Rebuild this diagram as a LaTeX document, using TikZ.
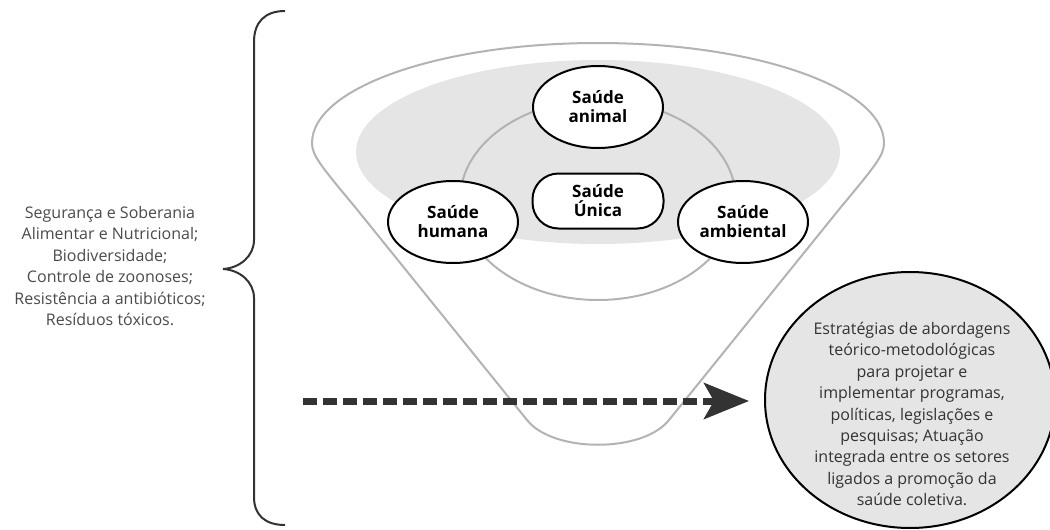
\documentclass[tikz,border=0pt]{standalone}
\usepackage{fontspec}
\setmainfont{Open Sans}
\usetikzlibrary{shapes.geometric,arrows.meta}
\definecolor{ink}{HTML}{333333}
\definecolor{txt}{HTML}{4A4A4A}
\definecolor{ring}{HTML}{B3B3B3}
\definecolor{fillg}{HTML}{E5E5E5}
\tikzset{
  health/.style={ellipse,draw=black,line width=2pt,fill=white,minimum width=130pt,minimum height=82pt,inner sep=0pt,align=center,font=\fontsize{17}{19}\selectfont\bfseries},
  onebox/.style={rectangle,rounded corners=26pt,draw=black,line width=2pt,fill=white,minimum width=131pt,minimum height=55pt,inner sep=0pt,align=center,font=\fontsize{17}{19}\selectfont\bfseries},
  sidetext/.style={align=center,text=txt,font=\fontsize{16}{21.4}\selectfont},
  goalbox/.style={ellipse,draw=black,line width=2pt,fill=fillg,minimum width=290pt,minimum height=256pt,inner sep=0pt},
  grayline/.style={draw=ring,line width=2pt},
}
\begin{document}
\begin{tikzpicture}[x=1pt,y=-1pt]
\useasboundingbox (0,0) rectangle (1050,530);
\clip (0,0) rectangle (1050,530);
% funnel
\draw[grayline] (527,420) -- (355,207) .. controls (320,165) and (312,155) .. (312,143)
  arc[start angle=180,end angle=0,x radius=286,y radius=-100]
  .. controls (884,155) and (876,165) .. (841,207) -- (669,420)
  .. controls (643,453) and (553,453) .. (527,420);
% gray disc
\fill[fillg] (598,152) ellipse[x radius=242,y radius=92];
% inner ring
\draw[grayline] (598,200) ellipse[x radius=138,y radius=100];
% nodes
\node[health] (animal) at (598,107) {Saúde\\animal};
\node[onebox] (unica) at (598,201) {Saúde\\Única};
\node[health] (humana) at (453,222) {Saúde\\humana};
\node[health] (ambiental) at (743,222) {Saúde\\ambiental};
% brace
\draw[ink,line width=2pt] (285,11) .. controls (265,11) and (254,22) .. (254,42) -- (254,240)
  .. controls (254,256) and (240,268) .. (223,269)
  .. controls (240,270) and (254,282) .. (254,298) -- (254,497)
  .. controls (254,515) and (265,525) .. (285,525);
\node[sidetext] (issues) at (110,266) {Segurança e Soberania\\Alimentar e Nutricional;\\Biodiversidade;\\Controle de zoonoses;\\Resistência a antibióticos;\\Resíduos tóxicos.};
% goal
\node[goalbox] (goal) at (910,400) {};
\node[sidetext,text=ink] (goaltext) at (912,414) {Estratégias de abordagens\\teórico-metodológicas\\para projetar e\\implementar programas,\\políticas, legislações e\\pesquisas; Atuação\\integrada entre os setores\\ligados a promoção da\\saúde coletiva.};
% arrow
\coordinate (astart) at (303,401);
\draw[ink,line width=7pt,dash pattern=on 14pt off 6pt,-{Stealth[length=45pt,width=36pt,inset=10pt]},shorten >=15pt] (astart) -- (astart -| goal.west);
\end{tikzpicture}
\end{document}
